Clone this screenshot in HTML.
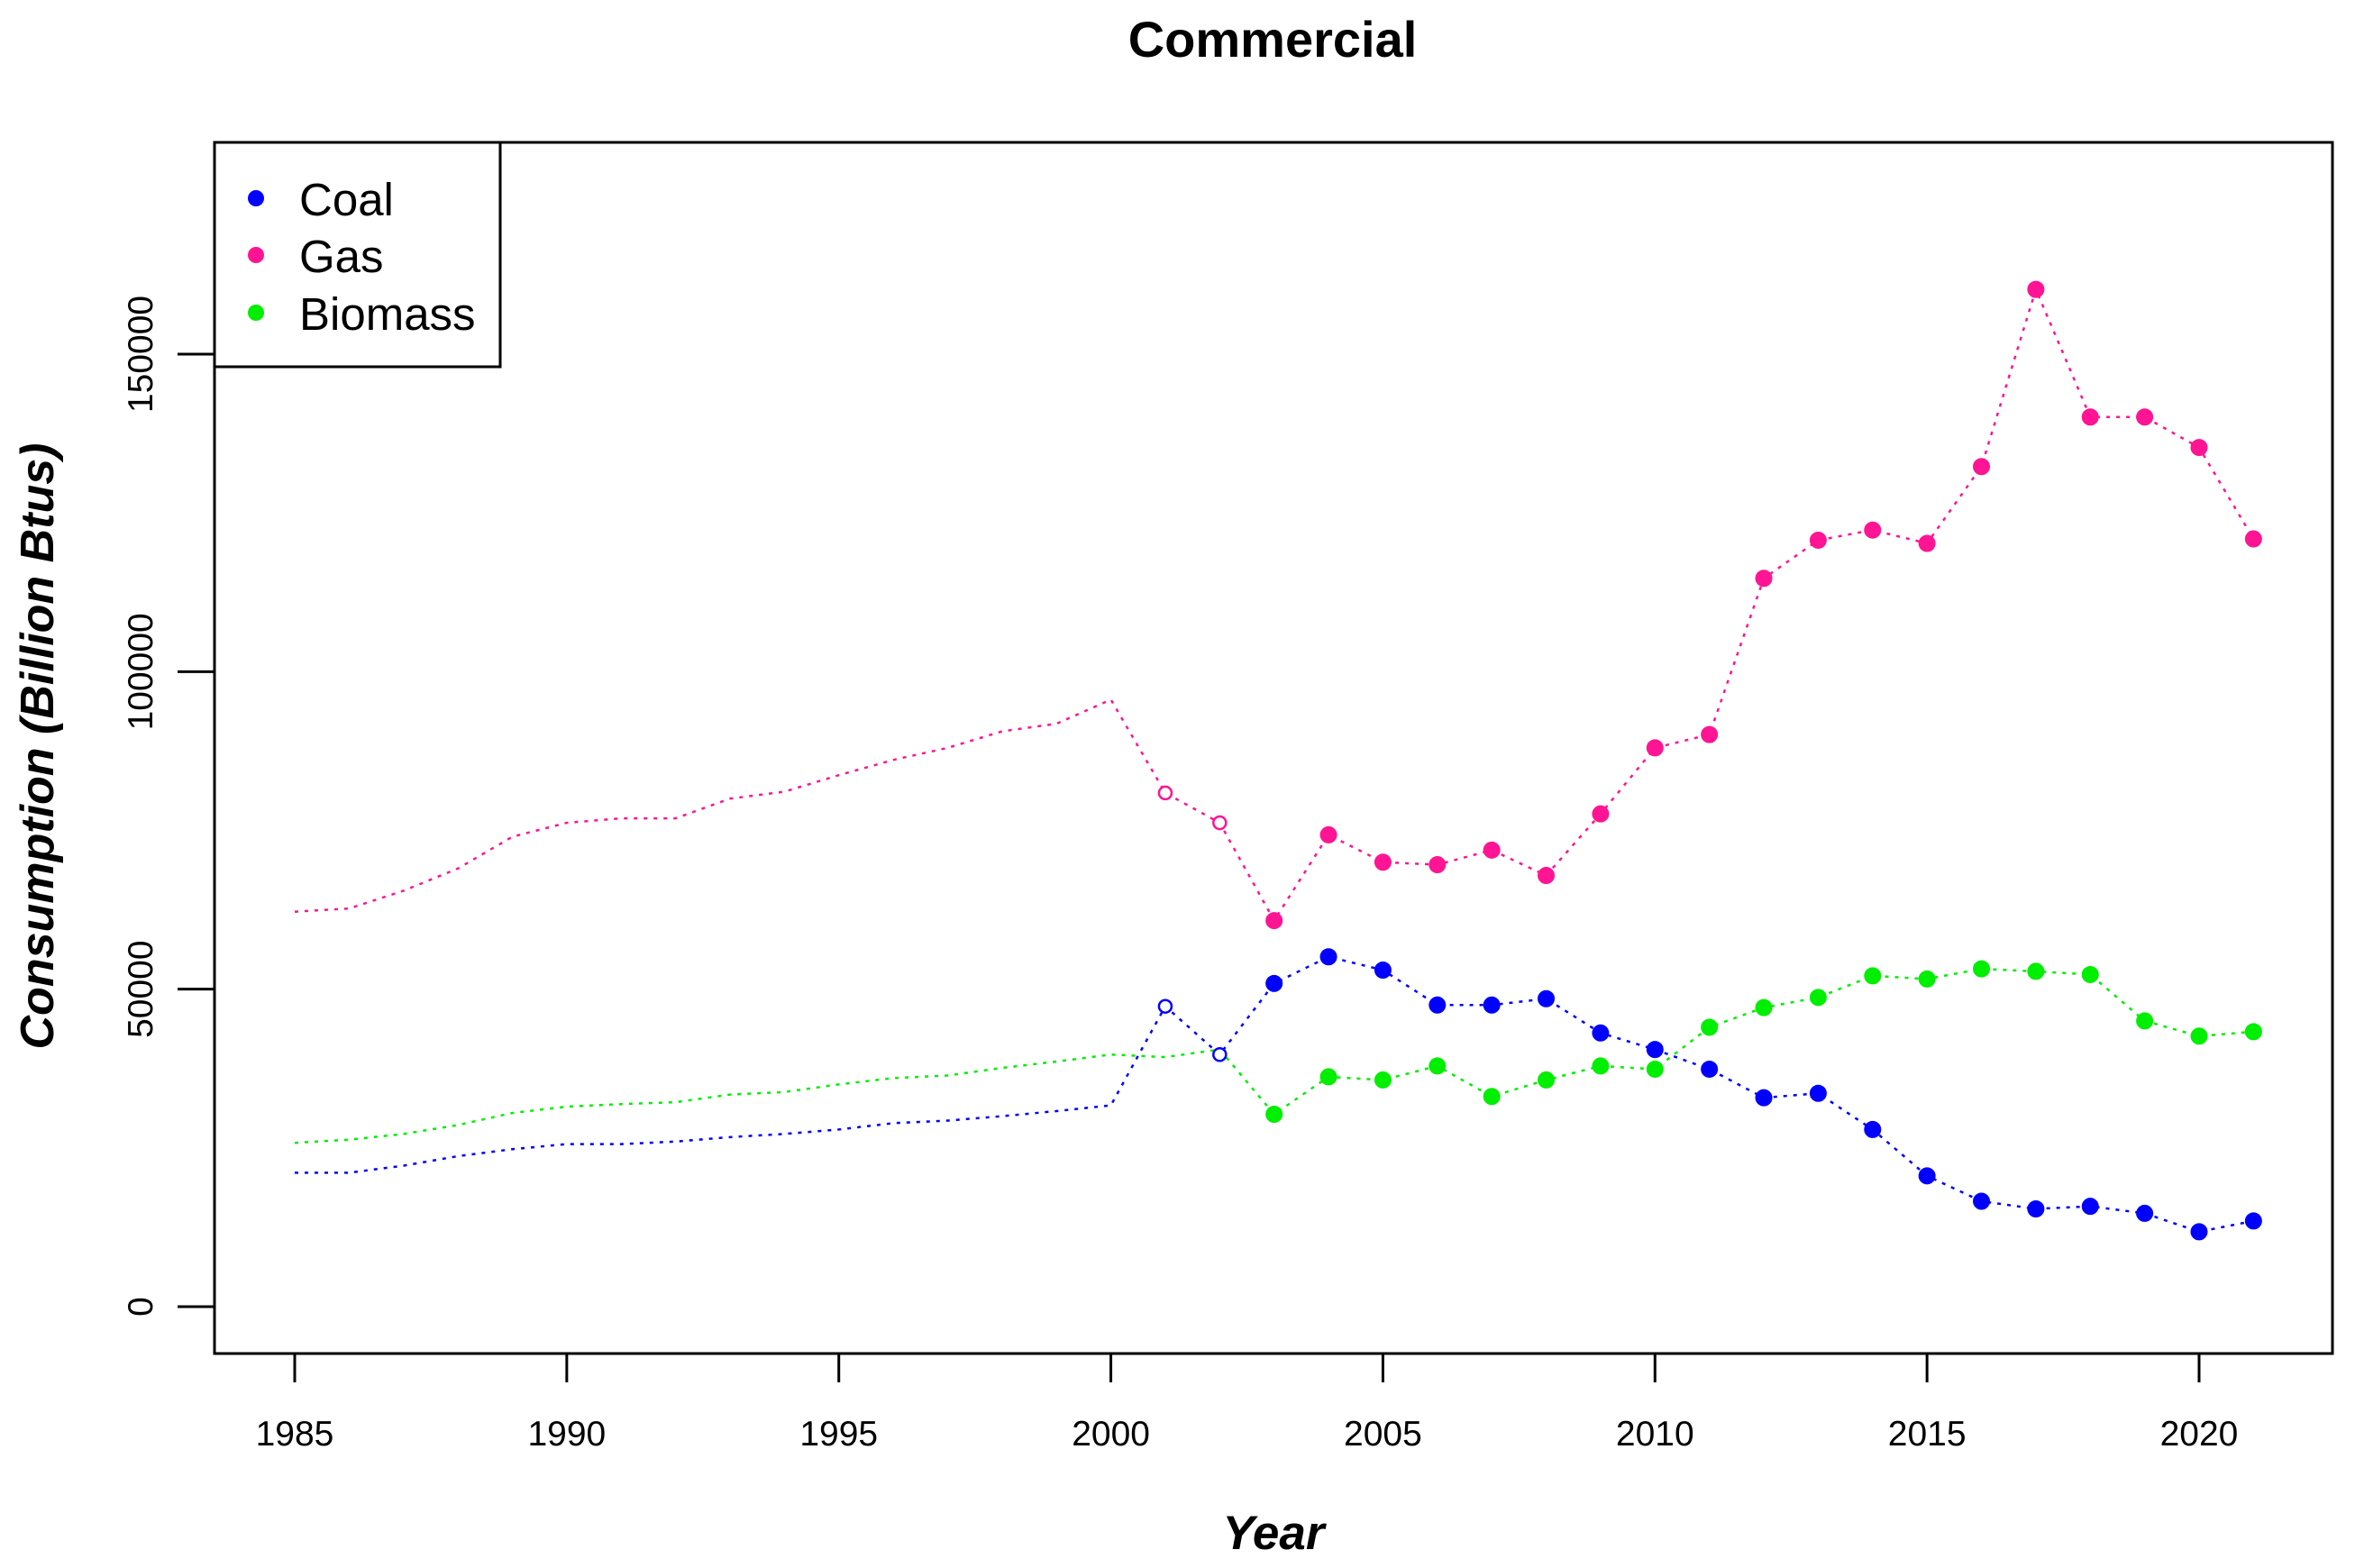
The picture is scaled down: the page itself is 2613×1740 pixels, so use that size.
<!DOCTYPE html>
<html><head><meta charset="utf-8"><style>
html,body{margin:0;padding:0;background:#fff;}
svg{display:block;}
text{font-family:"Liberation Sans",sans-serif;}
</style></head><body>
<svg id="chart" width="2613" height="1740" viewBox="0 0 2613 1740">
<rect x="0" y="0" width="2613" height="1740" fill="#fff"/>
<text x="1412" y="63" text-anchor="middle" font-size="56" font-weight="bold">Commercial</text>
<text x="1413" y="1719" text-anchor="middle" font-size="53" font-weight="bold" font-style="italic">Year</text>
<text transform="translate(59,828) rotate(-90)" text-anchor="middle" font-size="52" font-weight="bold" font-style="italic">Consumption (Billion Btus)</text>
<g id="axes"></g>
<g id="series"></g>
<rect x="238" y="158" width="2350" height="1344" fill="none" stroke="#000" stroke-width="3"/>
<g>
<rect x="238" y="158" width="317" height="249" fill="#fff" stroke="#000" stroke-width="3"/>
<g><circle cx="284" cy="220" r="9" fill="#0000ff"/><text x="332" y="239" font-size="51">Coal</text></g>
<g><circle cx="284" cy="283" r="9" fill="#ff1493"/><text x="332" y="302" font-size="51">Gas</text></g>
<g><circle cx="284" cy="347" r="9" fill="#00ee00"/><text x="332" y="366" font-size="51">Biomass</text></g>
</g>
</svg>
<script>
const years = [1985,1986,1987,1988,1989,1990,1991,1992,1993,1994,1995,1996,1997,1998,1999,2000,2001,2002,2003,2004,2005,2006,2007,2008,2009,2010,2011,2012,2013,2014,2015,2016,2017,2018,2019,2020,2021];
const gasValues = [62200,62700,65500,69000,74000,76200,76900,76900,80000,81100,83700,86100,88000,90600,91800,95600,80900,76200,60800,74300,70000,69600,71900,67900,77600,88000,90100,114700,120700,122300,120200,132300,160200,140100,140100,135300,120900];
const coalValues = [21100,21100,22200,23700,24800,25600,25600,26000,26700,27200,27900,28900,29300,30000,30800,31700,47300,39700,50900,55100,53000,47500,47500,48500,43100,40500,37400,32900,33600,27900,20600,16600,15400,15800,14700,11800,13500];
const biomassValues = [25800,26300,27200,28600,30500,31500,31900,32200,33400,33800,35000,36000,36400,37600,38600,39700,39300,40500,30300,36200,35700,37900,33100,35700,37900,37400,44000,47100,48700,52100,51600,53200,52800,52300,45000,42600,43300];
const xTicks = [1985,1990,1995,2000,2005,2010,2015,2020];
const yTicks = [0,50000,100000,150000];
const openYears = [2001,2002];

const NS = "http://www.w3.org/2000/svg";
function xScale(y){ return 327 + (y - 1985) * (2440 - 327) / 35; }
function yScale(v){ return 1450 - v * (1450 - 393) / 150000; }
function mk(tag, attrs, parent){ const e = document.createElementNS(NS, tag); for (const k in attrs) e.setAttribute(k, attrs[k]); parent.appendChild(e); return e; }

const axes = document.getElementById('axes');
xTicks.forEach(t => {
  const l = mk('line', {x1: xScale(t), x2: xScale(t), y1: 1502, y2: 1534, stroke: '#000', 'stroke-width': 3}, axes);
  
  
  const tx = mk('text', {x: xScale(t), y: 1604, 'text-anchor': 'middle', 'font-size': 39}, axes);
  tx.textContent = t;
  
  
});
yTicks.forEach(t => {
  const l = mk('line', {x1: 197, x2: 238, y1: yScale(t), y2: yScale(t), stroke: '#000', 'stroke-width': 3}, axes);
  
  
  const tx = mk('text', {transform: 'translate(169,' + yScale(t) + ') rotate(-90)', 'text-anchor': 'middle', 'font-size': 39}, axes);
  tx.textContent = t;
  
  
});

const seriesG = document.getElementById('series');
function drawSeries(name, vals, color, firstMarkerYear, opens){
  const g = mk('g', {}, seriesG);
  
  
  const pts = years.map((y, i) => xScale(y) + ',' + yScale(vals[i])).join(' ');
  const pl = mk('polyline', {points: pts, fill: 'none', stroke: color, 'stroke-width': 2.5, 'stroke-dasharray': '4,7'}, g);
  
  
  years.forEach((y, i) => {
    if (y < firstMarkerYear) return;
    const open = opens.includes(y);
    const c = mk('circle', {cx: xScale(y), cy: yScale(vals[i]), r: open ? 7 : 9, fill: open ? '#fff' : color, stroke: color, 'stroke-width': open ? 2.5 : 1}, g);
    
    
  });
}
drawSeries('gas', gasValues, '#ff1493', 2001, openYears);
drawSeries('biomass', biomassValues, '#00ee00', 2003, []);
drawSeries('coal', coalValues, '#0000ff', 2001, openYears);
</script>
</body></html>
